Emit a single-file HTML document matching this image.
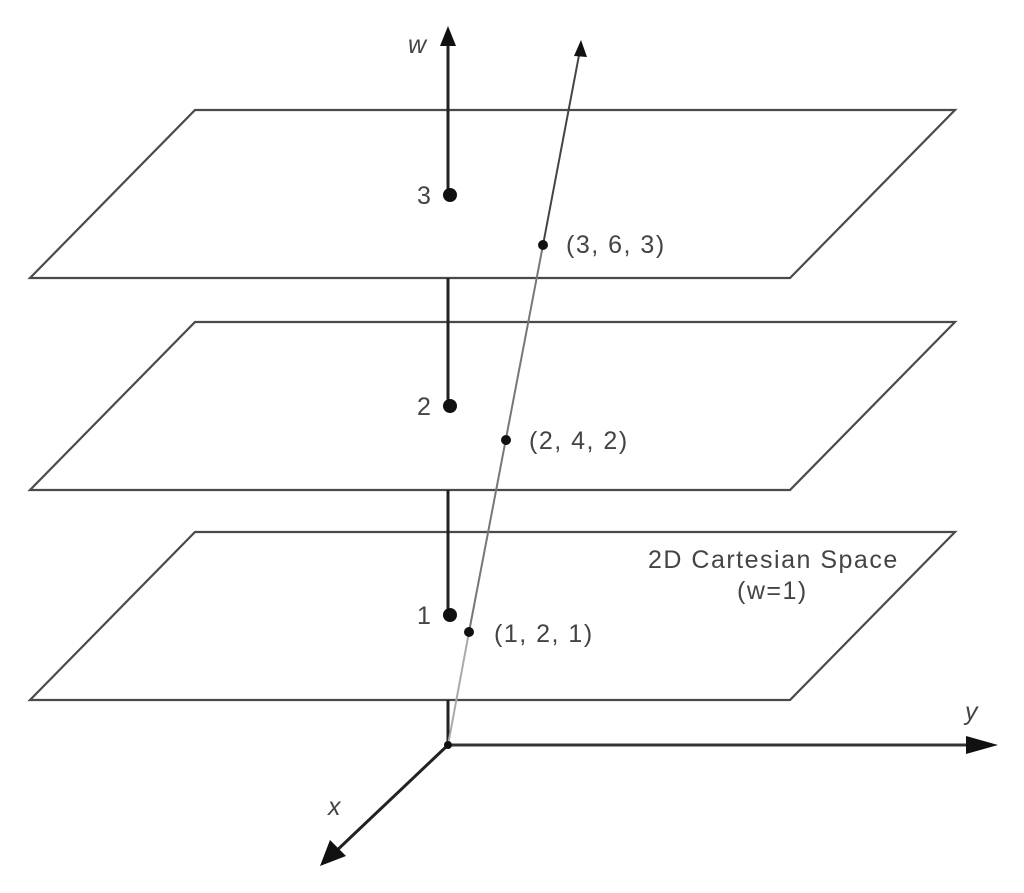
<!DOCTYPE html>
<html><head><meta charset="utf-8"><style>
html,body{margin:0;padding:0;background:#fff}
svg{display:block}
text{font-family:"Liberation Sans",sans-serif;fill:#444;font-size:25px;letter-spacing:1.5px}
</style></head><body>
<svg width="1024" height="893" viewBox="0 0 1024 893">
<g stroke="#4a4a4a" stroke-width="2.2" fill="none">
<polygon points="195,110 955,110 790,278 30,278"/>
<polygon points="195,322 955,322 790,490 30,490"/>
<polygon points="195,532 955,532 790,700 30,700"/>
</g>
<g stroke="#222" stroke-width="3">
<line x1="448" y1="40" x2="448" y2="195"/>
<line x1="448" y1="278" x2="448" y2="405"/>
<line x1="448" y1="490" x2="448" y2="615"/>
<line x1="448" y1="700" x2="448" y2="745"/>
</g>
<polygon points="448,26 440,46 456,46" fill="#111"/>
<line x1="448" y1="745" x2="469" y2="632" stroke="#aaa" stroke-width="2"/>
<line x1="469" y1="632" x2="543" y2="245" stroke="#777" stroke-width="2"/>
<line x1="543" y1="245" x2="580" y2="50" stroke="#444" stroke-width="2"/>
<polygon points="581,40 574,56 587,57" fill="#111"/>
<line x1="448" y1="745" x2="980" y2="745" stroke="#333" stroke-width="3"/>
<polygon points="998,745 966,736 966,754" fill="#111"/>
<line x1="448" y1="745" x2="332" y2="855" stroke="#222" stroke-width="3"/>
<polygon points="320,866 330,840 346,856" fill="#111"/>
<circle cx="448" cy="745" r="4" fill="#111"/>
<g fill="#111">
<circle cx="450" cy="195" r="7"/>
<circle cx="450" cy="406" r="7"/>
<circle cx="450" cy="615" r="7"/>
<circle cx="543" cy="245" r="5"/>
<circle cx="506" cy="440" r="5"/>
<circle cx="469" cy="632" r="5"/>
</g>
<text x="408" y="53" font-style="italic">w</text>
<text x="965" y="720" font-style="italic">y</text>
<text x="328" y="815" font-style="italic">x</text>
<text x="417" y="204">3</text>
<text x="417" y="415">2</text>
<text x="417" y="624">1</text>
<text x="566" y="253">(3, 6, 3)</text>
<text x="529" y="449">(2, 4, 2)</text>
<text x="494" y="642">(1, 2, 1)</text>
<text x="648" y="568">2D Cartesian Space</text>
<text x="737" y="599">(w=1)</text>
</svg>
</body></html>
